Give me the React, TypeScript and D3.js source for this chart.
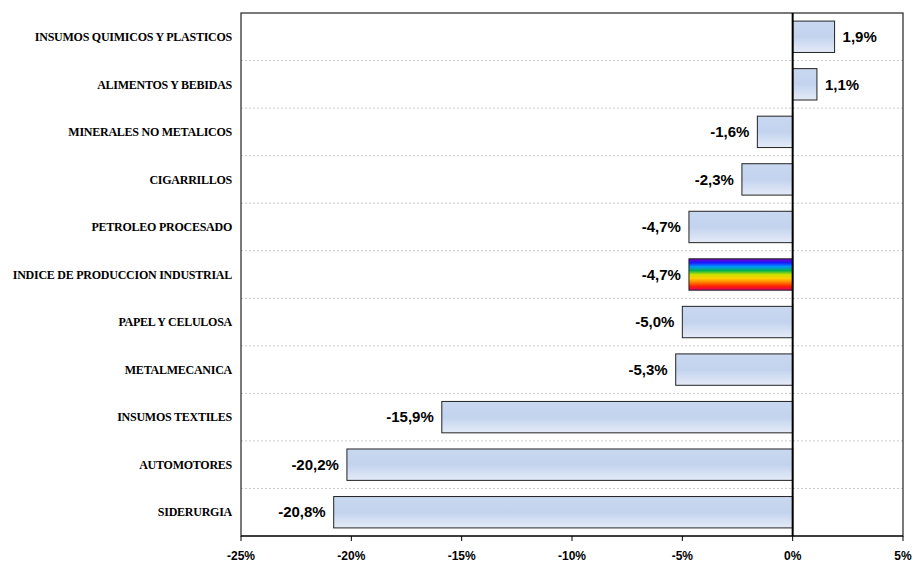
import React from "react";
import * as d3 from "d3";

const categories = [
  "INSUMOS QUIMICOS Y PLASTICOS",
  "ALIMENTOS Y BEBIDAS",
  "MINERALES NO METALICOS",
  "CIGARRILLOS",
  "PETROLEO PROCESADO",
  "INDICE DE PRODUCCION INDUSTRIAL",
  "PAPEL Y CELULOSA",
  "METALMECANICA",
  "INSUMOS TEXTILES",
  "AUTOMOTORES",
  "SIDERURGIA",
];
const values = [1.9, 1.1, -1.6, -2.3, -4.7, -4.7, -5.0, -5.3, -15.9, -20.2, -20.8];
const highlighted = "INDICE DE PRODUCCION INDUSTRIAL";
const xTicks = [-25, -20, -15, -10, -5, 0, 5];

const W = 913, H = 562;
const left = 241, right = 903, top = 13, bottom = 536;

export default function App() {
  const x = d3.scaleLinear().domain([-25, 5]).range([left, right]);
  const y = d3.scaleBand().domain(categories).range([top, bottom]).paddingInner(0.34).paddingOuter(0.17);
  const step = y.step();
  const fmt = (v: number) => v.toFixed(1).replace(".", ",") + "%";
  const rainbow = ["#7a00c8", "#1a1aff", "#0099ff", "#00b050", "#c8e000", "#ffd000", "#ff8000", "#ff2000", "#e0006a"];
  return (
    <svg width={W} height={H} style={{ display: "block", position: "absolute", left: 0, top: 0 }}>
      <defs>
        <linearGradient id="blueg" x1="0" y1="0" x2="0" y2="1">
          <stop offset="0" stopColor="#c9d8f0" />
          <stop offset="0.5" stopColor="#c3d3ee" />
          <stop offset="1" stopColor="#e4ebf7" />
        </linearGradient>
        <linearGradient id="rain" x1="0" y1="0" x2="0" y2="1">
          {rainbow.map((c, i) => (
            <stop key={i} offset={i / (rainbow.length - 1)} stopColor={c} />
          ))}
        </linearGradient>
      </defs>
      <rect x={0} y={0} width={W} height={H} fill="#fff" />
      {categories.slice(1).map((c, i) => {
        const yy = top + step * (i + 1);
        return <line key={c} x1={left} x2={right} y1={yy} y2={yy} stroke="#c8c8c8" strokeWidth={1} strokeDasharray="2,2" />;
      })}
      <rect x={left} y={top} width={right - left} height={bottom - top} fill="none" stroke="#222" strokeWidth={1.2} />
      {categories.map((c, i) => {
        const v = values[i];
        const x0 = x(Math.min(0, v));
        const x1 = x(Math.max(0, v));
        const by = y(c)!;
        const bh = y.bandwidth();
        return (
          <g key={c}>
            <rect x={x0} y={by} width={x1 - x0} height={bh} fill={c === highlighted ? "url(#rain)" : "url(#blueg)"} stroke="#222" strokeWidth={1} />
            <text
              x={v >= 0 ? x1 + 8 : x0 - 8}
              y={by + bh / 2}
              dy="0.35em"
              textAnchor={v >= 0 ? "start" : "end"}
              fontFamily="Liberation Sans, Arial, sans-serif"
              fontWeight="bold"
              fontSize={15}
              fill="#000"
            >
              {fmt(v)}
            </text>
            <text
              x={232}
              y={by + bh / 2}
              dy="0.35em"
              textAnchor="end"
              fontFamily="Liberation Serif, Times New Roman, serif"
              fontWeight="bold"
              fontSize={12}
              letterSpacing={-0.25}
              fill="#000"
            >
              {c}
            </text>
          </g>
        );
      })}
      <line x1={x(0)} x2={x(0)} y1={top} y2={bottom} stroke="#000" strokeWidth={2} />
      <line x1={left} x2={right} y1={bottom} y2={bottom} stroke="#000" strokeWidth={1.2} />
      {xTicks.map((t) => (
        <g key={t}>
          <line x1={x(t)} x2={x(t)} y1={bottom} y2={bottom + 5} stroke="#000" strokeWidth={1} />
          <text x={x(t)} y={560} textAnchor="middle" fontFamily="Liberation Sans, Arial, sans-serif" fontWeight="bold" fontSize={12} fill="#000">
            {t + "%"}
          </text>
        </g>
      ))}
    </svg>
  );
}
